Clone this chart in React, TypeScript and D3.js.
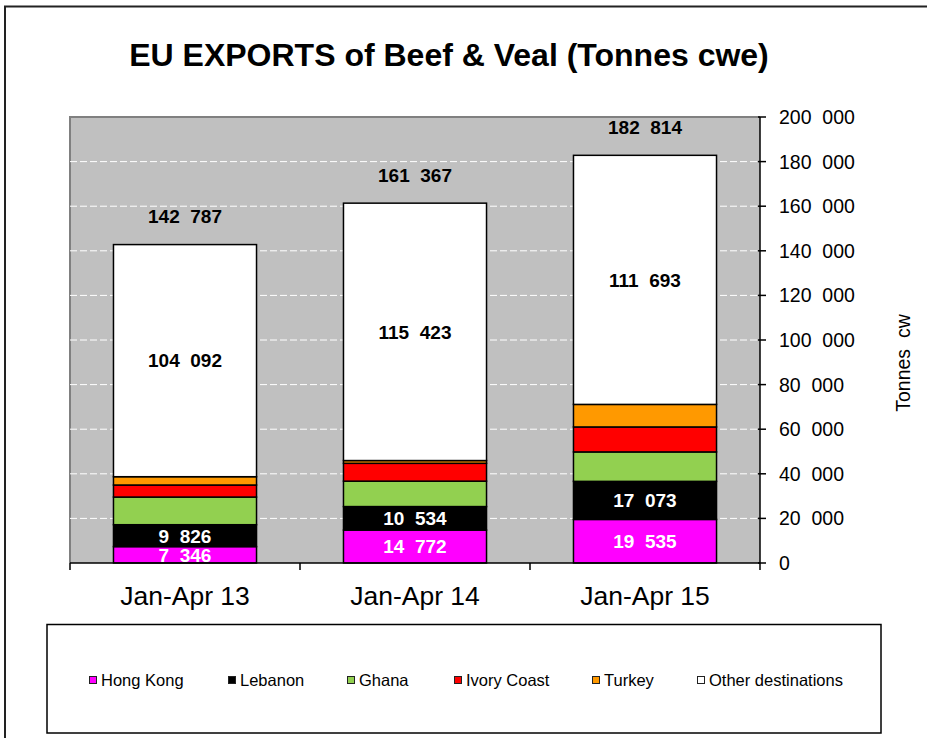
import React from "react";
import * as d3 from "d3";

const categories = ["Jan-Apr 13", "Jan-Apr 14", "Jan-Apr 15"];
const seriesNames = ["Hong Kong", "Lebanon", "Ghana", "Ivory Coast", "Turkey", "Other destinations"];
const hongKong = [7346, 14772, 19535];
const lebanon = [9826, 10534, 17073];
const ghana = [12400, 11400, 13200];
const ivoryCoast = [5400, 8000, 11200];
const turkey = [3723, 1238, 10113];
const otherDest = [104092, 115423, 111693];
const totals = [142787, 161367, 182814];
const yTicks = [0, 20000, 40000, 60000, 80000, 100000, 120000, 140000, 160000, 180000, 200000];
const colors = ["#ff00ff", "#000000", "#92d050", "#ff0000", "#ff9900", "#ffffff"];
const labelledSeries = [0, 1, 5];
const labelColors = ["#ffffff", "#ffffff", "#000000"];

const seriesValues = [hongKong, lebanon, ghana, ivoryCoast, turkey, otherDest];
const rows = categories.map((c, i) => {
  const r: any = { cat: c };
  seriesNames.forEach((s, j) => (r[s] = seriesValues[j][i]));
  return r;
});

const W = 927, H = 738;
const plot = { left: 70, right: 760, top: 117, bottom: 563 };
const legendX = [89, 228, 347, 454, 592, 697];
const FONT = "Arial, 'Liberation Sans', sans-serif";

const fmt = d3.formatLocale({ thousands: "\u00a0\u00a0", grouping: [3], decimal: ",", currency: ["", ""] }).format(",d");

export default function App() {
  const x = d3.scaleBand<string>().domain(categories).range([plot.left, plot.right]).paddingInner(0.378).paddingOuter(0.189);
  const y = d3.scaleLinear().domain([0, 200000]).range([plot.bottom, plot.top]);
  const stacked = d3.stack<any>().keys(seriesNames)(rows);
  const step = x.step();
  const boundaries = d3.range(categories.length + 1).map((i) => plot.left + i * step);

  return (
    <svg width={W} height={H} style={{ position: "fixed", left: 0, top: 0, background: "#fff" }} fontFamily={FONT}>
      <defs>
        <clipPath id="plotclip">
          <rect x={plot.left} y={plot.top} width={plot.right - plot.left} height={plot.bottom - plot.top} />
        </clipPath>
      </defs>
      <rect x={0} y={0} width={W} height={H} fill="#fff" />
      <rect x={5} y={6.5} width={W + 50} height={H + 50} fill="none" stroke="#222" strokeWidth={2} />
      <text x={449} y={66} textAnchor="middle" fontSize={32} fontWeight="bold" fill="#000">
        EU EXPORTS of Beef &amp; Veal (Tonnes cwe)
      </text>

      {/* plot area */}
      <rect x={plot.left} y={plot.top} width={plot.right - plot.left} height={plot.bottom - plot.top} fill="#c0c0c0" />
      <path d={`M${plot.left},${plot.bottom}V${plot.top}H${plot.right}`} fill="none" stroke="#808080" strokeWidth={2} />
      {yTicks.filter((t) => t > 0 && t < 200000).map((t) => (
        <line key={t} x1={plot.left} x2={plot.right} y1={y(t)} y2={y(t)} stroke="#fff" strokeWidth={1} strokeDasharray="7 3" />
      ))}

      {/* bars */}
      {stacked.map((s, si) => (
        <g key={s.key}>
          {s.map((d, i) => (
            <rect key={i} x={x(categories[i])} y={y(d[1])} width={x.bandwidth()} height={y(d[0]) - y(d[1])}
              fill={colors[si]} stroke="#000" strokeWidth={1.5} />
          ))}
        </g>
      ))}

      <g clipPath="url(#plotclip)">
        {labelledSeries.map((si, li) =>
          stacked[si].map((d, i) => (
            <text key={`${si}-${i}`} x={(x(categories[i]) as number) + x.bandwidth() / 2} y={(y(d[0]) + y(d[1])) / 2}
              dy="0.36em" textAnchor="middle" fontSize={19} fontWeight="bold" fill={labelColors[li]}>
              {fmt(seriesValues[si][i])}
            </text>
          ))
        )}
        {totals.map((t, i) => (
          <text key={i} x={(x(categories[i]) as number) + x.bandwidth() / 2} y={y(t) - 28} dy="0.36em"
            textAnchor="middle" fontSize={19} fontWeight="bold" fill="#000">
            {fmt(t)}
          </text>
        ))}
      </g>

      {/* y axis right */}
      <line x1={plot.right} x2={plot.right} y1={plot.top} y2={plot.bottom} stroke="#000" strokeWidth={1.5} />
      {yTicks.map((t) => (
        <g key={t}>
          <line x1={plot.right - 2} x2={plot.right + 6} y1={y(t)} y2={y(t)} stroke="#000" strokeWidth={1.5} />
          <text x={779} y={y(t)} dy="0.36em" fontSize={19.5} fill="#000">{fmt(t)}</text>
        </g>
      ))}
      <text transform="translate(910,363) rotate(-90)" textAnchor="middle" fontSize={19.5} fill="#000">
        Tonnes{"\u00a0\u00a0"}cw
      </text>

      {/* x axis */}
      <line x1={plot.left} x2={plot.right} y1={plot.bottom} y2={plot.bottom} stroke="#000" strokeWidth={1.5} />
      {boundaries.map((b, i) => (
        <line key={i} x1={b} x2={b} y1={plot.bottom} y2={plot.bottom + 7} stroke="#000" strokeWidth={1.5} />
      ))}
      {categories.map((c) => (
        <text key={c} x={(x(c) as number) + x.bandwidth() / 2} y={605} textAnchor="middle" fontSize={26.5} fill="#000">
          {c}
        </text>
      ))}

      {/* legend */}
      <rect x={47} y={624.5} width={834} height={108.5} fill="#fff" stroke="#000" strokeWidth={1.5} />
      {seriesNames.map((s, i) => (
        <g key={s}>
          <rect x={legendX[i] + 0.5} y={676.5} width={7} height={7} fill={colors[i]} stroke="#222" strokeWidth={1} />
          <text x={legendX[i] + 12} y={680} dy="0.36em" fontSize={16.5} fill="#000">{s}</text>
        </g>
      ))}
    </svg>
  );
}
